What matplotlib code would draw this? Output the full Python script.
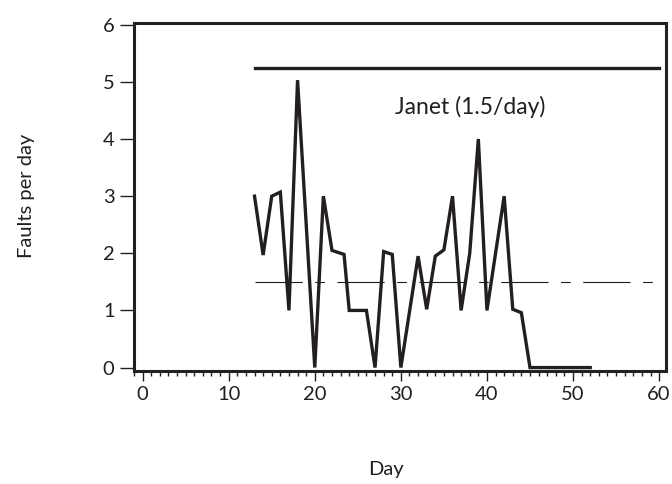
import matplotlib
matplotlib.use("Agg")
import matplotlib.pyplot as plt
from matplotlib.ticker import MultipleLocator

INK = "#231F20"

# faults found per day
days = [13, 14, 15, 16, 17, 18, 20, 21, 22, 23.4, 24, 26, 27, 28, 29, 30,
        32, 33, 34, 35, 36, 37, 38, 39, 40, 42, 43, 44, 45, 52]
faults = [3.0, 1.97, 3.0, 3.07, 1.0, 5.03, 0.0, 3.0, 2.05, 1.98, 1.0, 1.0, 0.0,
          2.03, 1.98, 0.0, 1.95, 1.02, 1.95, 2.06, 3.0, 1.0, 2.0, 4.0, 1.0,
          3.0, 1.02, 0.96, 0.0, 0.0]

span = [13, 60]
upper_level = 5.24
janet_rate = 1.5
janet_label = "Janet (1.5/day)"

plt.rcParams["font.family"] = ["Lato", "DejaVu Sans"]
plt.rcParams["lines.scale_dashes"] = False

fig = plt.figure(figsize=(6.72, 4.84), dpi=100)
ax = fig.add_axes([134 / 672, 1 - 371 / 484, 532 / 672, 348 / 484])

ax.plot(days, faults, color=INK, lw=2.4, solid_joinstyle="miter")
ax.plot(span, [upper_level, upper_level], color=INK, lw=2.4)
ax.plot(span, [janet_rate, janet_rate], color=INK, lw=0.8,
        dashes=(34, 9, 7, 9))
ax.text(38, 4.56, janet_label, ha="center", va="center", fontsize=16.5, color=INK)

ax.set_xlim(-1, 60.8)
ax.set_ylim(-0.06, 6.03)
ax.xaxis.set_major_locator(MultipleLocator(10))
ax.xaxis.set_minor_locator(MultipleLocator(1))
ax.yaxis.set_major_locator(MultipleLocator(1))

for sp in ax.spines.values():
    sp.set_linewidth(2.2)
    sp.set_color(INK)
ax.tick_params(axis="x", which="major", length=7, width=1, pad=4,
               labelsize=14.5, colors=INK)
ax.tick_params(axis="x", which="minor", length=3.5, width=1, colors=INK)
ax.tick_params(axis="y", length=10, width=1, pad=4, labelsize=14.5, colors=INK)

ax.set_xlabel("Day", fontsize=14.5, color=INK)
ax.xaxis.set_label_coords(0.4737, -0.26)
ax.set_ylabel("Faults per day", fontsize=14.5, color=INK)
ax.yaxis.set_label_coords(-0.186, 0.503)

fig.savefig("out.png", dpi=100)
